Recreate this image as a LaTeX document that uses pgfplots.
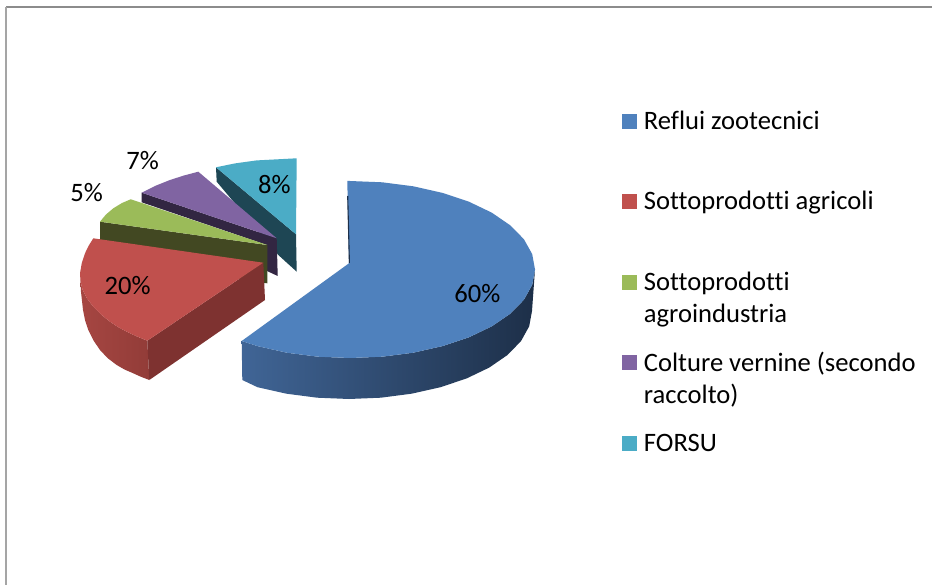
\documentclass[border=0pt]{standalone}
\usepackage{pgfplots}
\pgfplotsset{compat=1.18}
\usepackage{fontspec}
\setmainfont[Ligatures=NoCommon]{Carlito}
\definecolor{cB}{HTML}{4F81BD}
\definecolor{cR}{HTML}{C0504D}
\definecolor{cG}{HTML}{9BBB59}
\definecolor{cP}{HTML}{8064A2}
\definecolor{cT}{HTML}{4BACC6}
\definecolor{sBl}{RGB}{64,101,150}
\definecolor{sBm}{RGB}{40,66,100}
\definecolor{sBr}{RGB}{29,47,72}
\definecolor{sRl}{RGB}{166,70,66}
\definecolor{sRr}{RGB}{146,60,56}
\definecolor{sRd}{RGB}{126,50,48}
\definecolor{sG}{RGB}{66,72,34}
\definecolor{sP}{RGB}{50,38,66}
\definecolor{sT}{RGB}{30,70,84}
\tikzset{lab/.style={inner sep=0pt,font=\fontsize{26.6}{26.6}\selectfont,text=black}}
\begin{document}
\begin{tikzpicture}
\begin{axis}[
  scale only axis, width=932pt, height=585pt,
  xmin=0, xmax=932, ymin=0, ymax=585, y dir=reverse,
  hide axis, clip=true,
  every axis plot/.append style={line width=0pt},
]
% page
\addplot[fill=white,draw=none] coordinates {(0,0)(932,0)(932,585)(0,585)} -- cycle;
% frame
\addplot[draw={rgb,255:red,140;green,140;blue,140},line width=1.6pt] coordinates {(932,7.3)(5.5,7.3)};
\addplot[draw={rgb,255:red,165;green,165;blue,165},line width=2.2pt] coordinates {(6,7)(6,585)};
% FORSU
\addplot[fill=sT,draw=none] coordinates {(216,167.3)(296,234.3)(296.7,271.7)(278.3,255)(216.7,181.7)} -- cycle;
\addplot[fill=cT,draw=none] coordinates {(216,167.3)(235,163.4)(256.7,160.4)(296.7,158.3)(296,234.3)} -- cycle;
% Colture vernine
\addplot[fill=sP,draw=none] coordinates {(141.7,192.7)(276.7,238.3)(277.7,276)(267,271)(267,245)(141.7,202.3)} -- cycle;
\addplot[fill=cP,draw=none] coordinates {(141.7,192.7)(155,186)(170,180)(184,175.5)(198.3,171.7)(276.7,238.3)} -- cycle;
% Sottoprodotti agroindustria
\addplot[fill=sG,draw=none] coordinates {(100,221.7)(267.3,245)(267.3,283.3)(264,283)(100,256)} -- cycle;
\addplot[fill=cG,draw=none] coordinates {(100,221.7)(106,214.5)(113.3,208.3)(122,203)(130.7,199.3)(267.3,245)} -- cycle;
% Sottoprodotti agricoli
\addplot[left color=sRl,right color=sRr,draw=none] coordinates {(80,273.3)(80.6,282)(82.7,290)(87,298.5)(93.3,306.7)(101,314.5)(110,321.7)(118,327)(126.7,331.7)(137,336.5)(147.3,340.7)(149.3,380)(141,376.8)(133.3,373.3)(124.5,369.5)(116.7,365)(107.5,358)(100,350)(93.5,340.5)(88.3,330)(85,320)(83,310)(81,292)} -- cycle;
\addplot[fill=sRd,draw=none] coordinates {(147.3,340.7)(263.3,262.7)(265,300)(149.3,380)} -- cycle;
\addplot[fill=cR,draw=none] coordinates {(93.3,238.3)(88.5,246)(85,253.3)(81.8,263)(80,273.3)(80.6,282)(82.7,290)(87,298.5)(93.3,306.7)(101,314.5)(110,321.7)(118,327)(126.7,331.7)(137,336.5)(147.3,340.7)(263.3,262.7)} -- cycle;
% Reflui zootecnici
\addplot[left color=sBl,middle color=sBm,right color=sBr,draw=none] coordinates {(241.7,341)(257.5,346.1)(286.7,352.7)(317.8,356.7)(350,358)(382.2,356.7)(413.3,352.7)(442.5,346.1)(468.9,337.3)(491.7,326.4)(510.2,313.8)(523.9,299.8)(532.2,284.9)(535,269.5)
 (532,311)(529.2,326.3)(521,341.1)(507.5,355)(489.2,367.6)(466.7,378.4)(440.5,387.2)(411.6,393.7)(380.8,397.7)(349,399)(317.2,397.7)(286.4,393.7)(257.5,387.2)(242.3,380)} -- cycle;
\addplot[fill=cB,draw=none] coordinates {(347.3,181)(350,181)(382.2,182.3)(413.3,186.3)(442.5,192.9)(468.9,201.7)(491.7,212.6)(510.2,225.3)(523.9,239.2)(532.2,254.1)(535,269.5)(532.2,284.9)(523.9,299.8)(510.2,313.8)(491.7,326.4)(468.9,337.3)(442.5,346.1)(413.3,352.7)(382.2,356.7)(350,358)(317.8,356.7)(286.7,352.7)(257.5,346.1)(241.7,341)(349,263.3)} -- cycle;
\addplot[draw=sBr,line width=1.1pt] coordinates {(347.7,196)(349.4,263)};
% legend keys
\addplot[fill=cB,draw=none] coordinates {(622,114)(637,114)(637,129)(622,129)} -- cycle;
\addplot[fill=cR,draw=none] coordinates {(622,194)(637,194)(637,209)(622,209)} -- cycle;
\addplot[fill=cG,draw=none] coordinates {(622,275)(637,275)(637,290)(622,290)} -- cycle;
\addplot[fill=cP,draw=none] coordinates {(622,355)(637,355)(637,370)(622,370)} -- cycle;
\addplot[fill=cT,draw=none] coordinates {(622,436)(637,436)(637,451)(622,451)} -- cycle;
% data labels
\node[lab,anchor=center] at (axis cs:477.3,294) {60\%};
\node[lab,anchor=center] at (axis cs:127.7,285.7) {20\%};
\node[lab,anchor=center] at (axis cs:86.7,192.5) {5\%};
\node[lab,anchor=center] at (axis cs:142.7,160.5) {7\%};
\node[lab,anchor=center] at (axis cs:274.3,184.3) {8\%};
% legend text
\node[lab,anchor=base west] at (axis cs:643.7,130) {Reflui zootecnici};
\node[lab,anchor=base west] at (axis cs:643.7,210) {Sottoprodotti agricoli};
\node[lab,anchor=base west] at (axis cs:643.7,290.5) {Sottoprodotti};
\node[lab,anchor=base west] at (axis cs:643.7,322.7) {agroindustria};
\node[lab,anchor=base west] at (axis cs:643.7,371) {Colture vernine (secondo};
\node[lab,anchor=base west] at (axis cs:643.7,403.7) {raccolto)};
\node[lab,anchor=base west] at (axis cs:643.7,451.5) {FORSU};
\end{axis}
\end{tikzpicture}
\end{document}
